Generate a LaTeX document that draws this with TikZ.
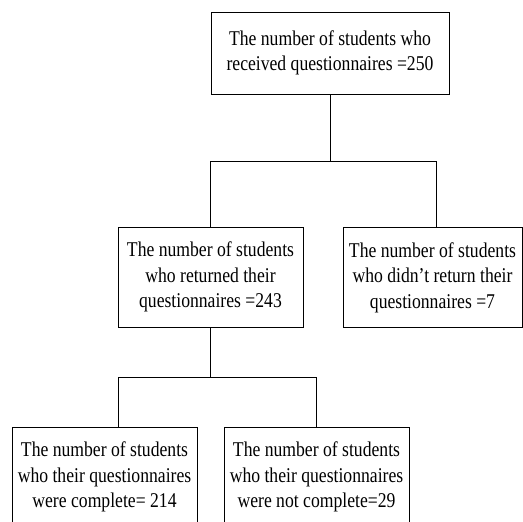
\documentclass[tikz,border=0pt]{standalone}
\usepackage{fontspec}
\setmainfont{Liberation Serif}[FakeStretch=0.84]
\begin{document}
\begin{tikzpicture}[x=1pt, y=-1pt, line width=0.9pt,
  box/.style = {draw, align=center, inner sep=0pt, minimum width=185pt, minimum height=100pt,
    font=\fontsize{21}{25.5}\selectfont}]
  \useasboundingbox (0,0) rectangle (523,522);
  \node[box, minimum width=238pt, minimum height=82pt] (all) at (330,53) {The number of students who\\received questionnaires =250};
  \node[box] (ret) at (210.5,277) {The number of students\\who returned their\\questionnaires =243};
  \node[box, minimum width=179pt] (notret) at (432.5,277.5) {The number of students\\who didn't return their\\questionnaires =7};
  \node[box] (comp) at (104.5,477) {The number of students\\who their questionnaires\\were complete= 214};
  \node[box] (notcomp) at (316.5,477) {The number of students\\who their questionnaires\\were not complete=29};

  \draw (all.south) -- ++(0,67) -| (ret.north);
  \draw (all.south) -- ++(0,67) -| ([xshift=3.5pt]notret.north);
  \draw (ret.south) -- ++(0,50) -| ([xshift=13.5pt]comp.north);
  \draw (ret.south) -- ++(0,50) -| (notcomp.north);
\end{tikzpicture}
\end{document}
